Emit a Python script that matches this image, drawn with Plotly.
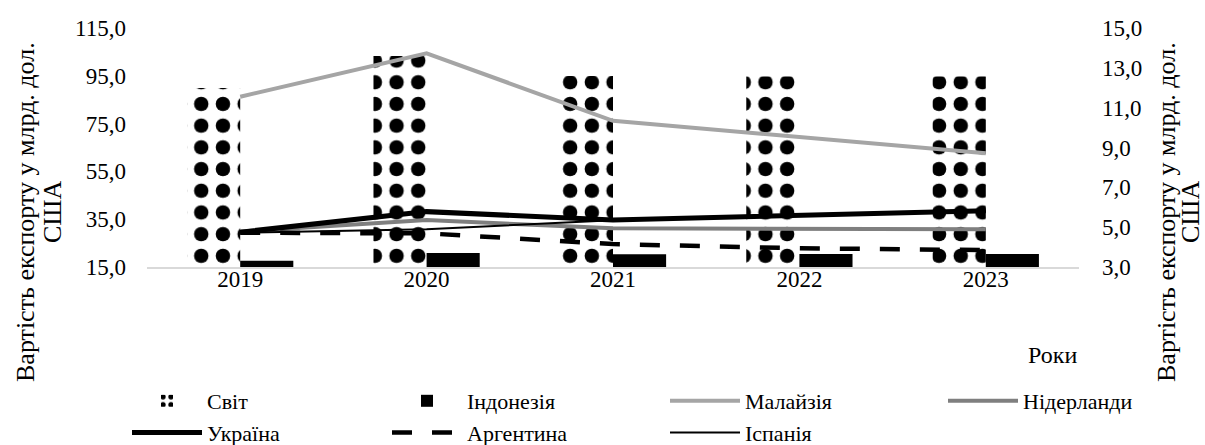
import plotly.graph_objects as go

years = ["2019", "2020", "2021", "2022", "2023"]
world = [89.9, 103.3, 94.9, 94.7, 94.7]
indonesia = [17.6, 20.9, 20.3, 20.4, 20.4]
malaysia = [11.55, 13.73, 10.34, 9.51, 8.71]
netherlands = [4.78, 5.36, 4.94, 4.92, 4.89]
ukraine = [4.75, 5.78, 5.36, 5.61, 5.83]
argentina = [4.72, 4.69, 4.15, 3.94, 3.85]
spain = [4.72, 4.90, 5.35, 5.60, 5.80]
left_ticks = [15, 35, 55, 75, 95, 115]
right_ticks = [3, 5, 7, 9, 11, 13, 15]
y_title_1 = "Вартість експорту у млрд. дол."
y_title_2 = "США"
x_title = "Роки"

FONT = "Liberation Serif, Times New Roman, serif"
TICK = 23
LEG = 22
TIT = 26
ITEM_W = 70

fig = go.Figure()
fig.add_trace(go.Bar(
    x=years, y=world, name="Світ", yaxis="y", legend="legend",
    marker=dict(color="white", line=dict(width=0),
                pattern=dict(shape=".", fgcolor="black", bgcolor="white",
                             fgopacity=1, size=21.7, solidity=0.35)),
))
fig.add_trace(go.Bar(
    x=years, y=indonesia, name="Індонезія", yaxis="y", legend="legend2",
    marker=dict(color="black", line=dict(width=0)),
))
fig.add_trace(go.Scatter(
    x=years, y=malaysia, name="Малайзія", yaxis="y2", mode="lines",
    legend="legend3",
    line=dict(color="#a5a5a5", width=4),
))
fig.add_trace(go.Scatter(
    x=years, y=netherlands, name="Нідерланди", yaxis="y2", mode="lines",
    legend="legend4",
    line=dict(color="#7f7f7f", width=4),
))
fig.add_trace(go.Scatter(
    x=years, y=ukraine, name="Україна", yaxis="y2", mode="lines",
    legend="legend",
    line=dict(color="black", width=5),
))
fig.add_trace(go.Scatter(
    x=years, y=argentina, name="Аргентина", yaxis="y2", mode="lines",
    legend="legend2",
    line=dict(color="black", width=4.5, dash="20px,20px"),
))
fig.add_trace(go.Scatter(
    x=years, y=spain, name="Іспанія", yaxis="y2", mode="lines",
    legend="legend3",
    line=dict(color="black", width=2),
))

W, H = 1205, 445
PH = H - 28 - 178
PW = W - 147 - 126


def px_x(px):
    return (px - 147) / PW


def px_y(py):
    return (267 - py) / PH


def leg(text_x):
    return dict(
        orientation="v", xanchor="left", yanchor="top",
        xref="container", yref="container",
        x=(text_x - ITEM_W - 10) / W, y=1 - 380 / H,
        font=dict(family=FONT, size=LEG, color="black"),
        bgcolor="rgba(0,0,0,0)", borderwidth=0, traceorder="normal",
        itemwidth=ITEM_W,
    )


fig.update_layout(
    width=W, height=H,
    margin=dict(l=147, r=126, t=28, b=178, pad=0, autoexpand=False),
    paper_bgcolor="white", plot_bgcolor="white",
    separators=", ",
    barmode="group", bargap=0.43, bargroupgap=0,
    font=dict(family=FONT, size=TICK, color="black"),
    xaxis=dict(
        type="category", showgrid=False, zeroline=False,
        showline=True, linecolor="#d9d9d9", linewidth=1.5,
        ticks="", tickfont=dict(family=FONT, size=TICK, color="black"),
        ticklabelstandoff=-9, automargin=False,
    ),
    yaxis=dict(
        range=[15, 115], tickvals=left_ticks, tickformat=".1f",
        showgrid=False, zeroline=False, showline=False, ticks="",
        tickfont=dict(family=FONT, size=TICK, color="black"),
        ticklabelstandoff=20, automargin=False,
    ),
    yaxis2=dict(
        range=[3, 15], tickvals=right_ticks, tickformat=".1f",
        overlaying="y", side="right",
        showgrid=False, zeroline=False, showline=False, ticks="",
        tickfont=dict(family=FONT, size=TICK, color="black"),
        ticklabelstandoff=22, automargin=False,
    ),
    legend=leg(207),
    legend2=leg(467),
    legend3=leg(745),
    legend4=leg(1023),
    showlegend=True,
    annotations=[
        dict(text=y_title_1, xref="paper", yref="paper",
             x=px_x(25), y=px_y(212), xanchor="center", yanchor="middle",
             textangle=-90, showarrow=False,
             font=dict(family=FONT, size=TIT, color="black")),
        dict(text=y_title_2, xref="paper", yref="paper",
             x=px_x(52), y=px_y(212), xanchor="center", yanchor="middle",
             textangle=-90, showarrow=False,
             font=dict(family=FONT, size=TIT, color="black")),
        dict(text=y_title_1, xref="paper", yref="paper",
             x=px_x(1166), y=px_y(212), xanchor="center", yanchor="middle",
             textangle=-90, showarrow=False,
             font=dict(family=FONT, size=TIT, color="black")),
        dict(text=y_title_2, xref="paper", yref="paper",
             x=px_x(1190), y=px_y(212), xanchor="center", yanchor="middle",
             textangle=-90, showarrow=False,
             font=dict(family=FONT, size=TIT, color="black")),
        dict(text=x_title, xref="paper", yref="paper",
             x=1.0, y=px_y(355), xanchor="right", yanchor="middle",
             showarrow=False, font=dict(family=FONT, size=24, color="black")),
    ],
)

fig.write_html("out.html", config={"displayModeBar": False},
               post_script="document.body.style.margin='0';")
